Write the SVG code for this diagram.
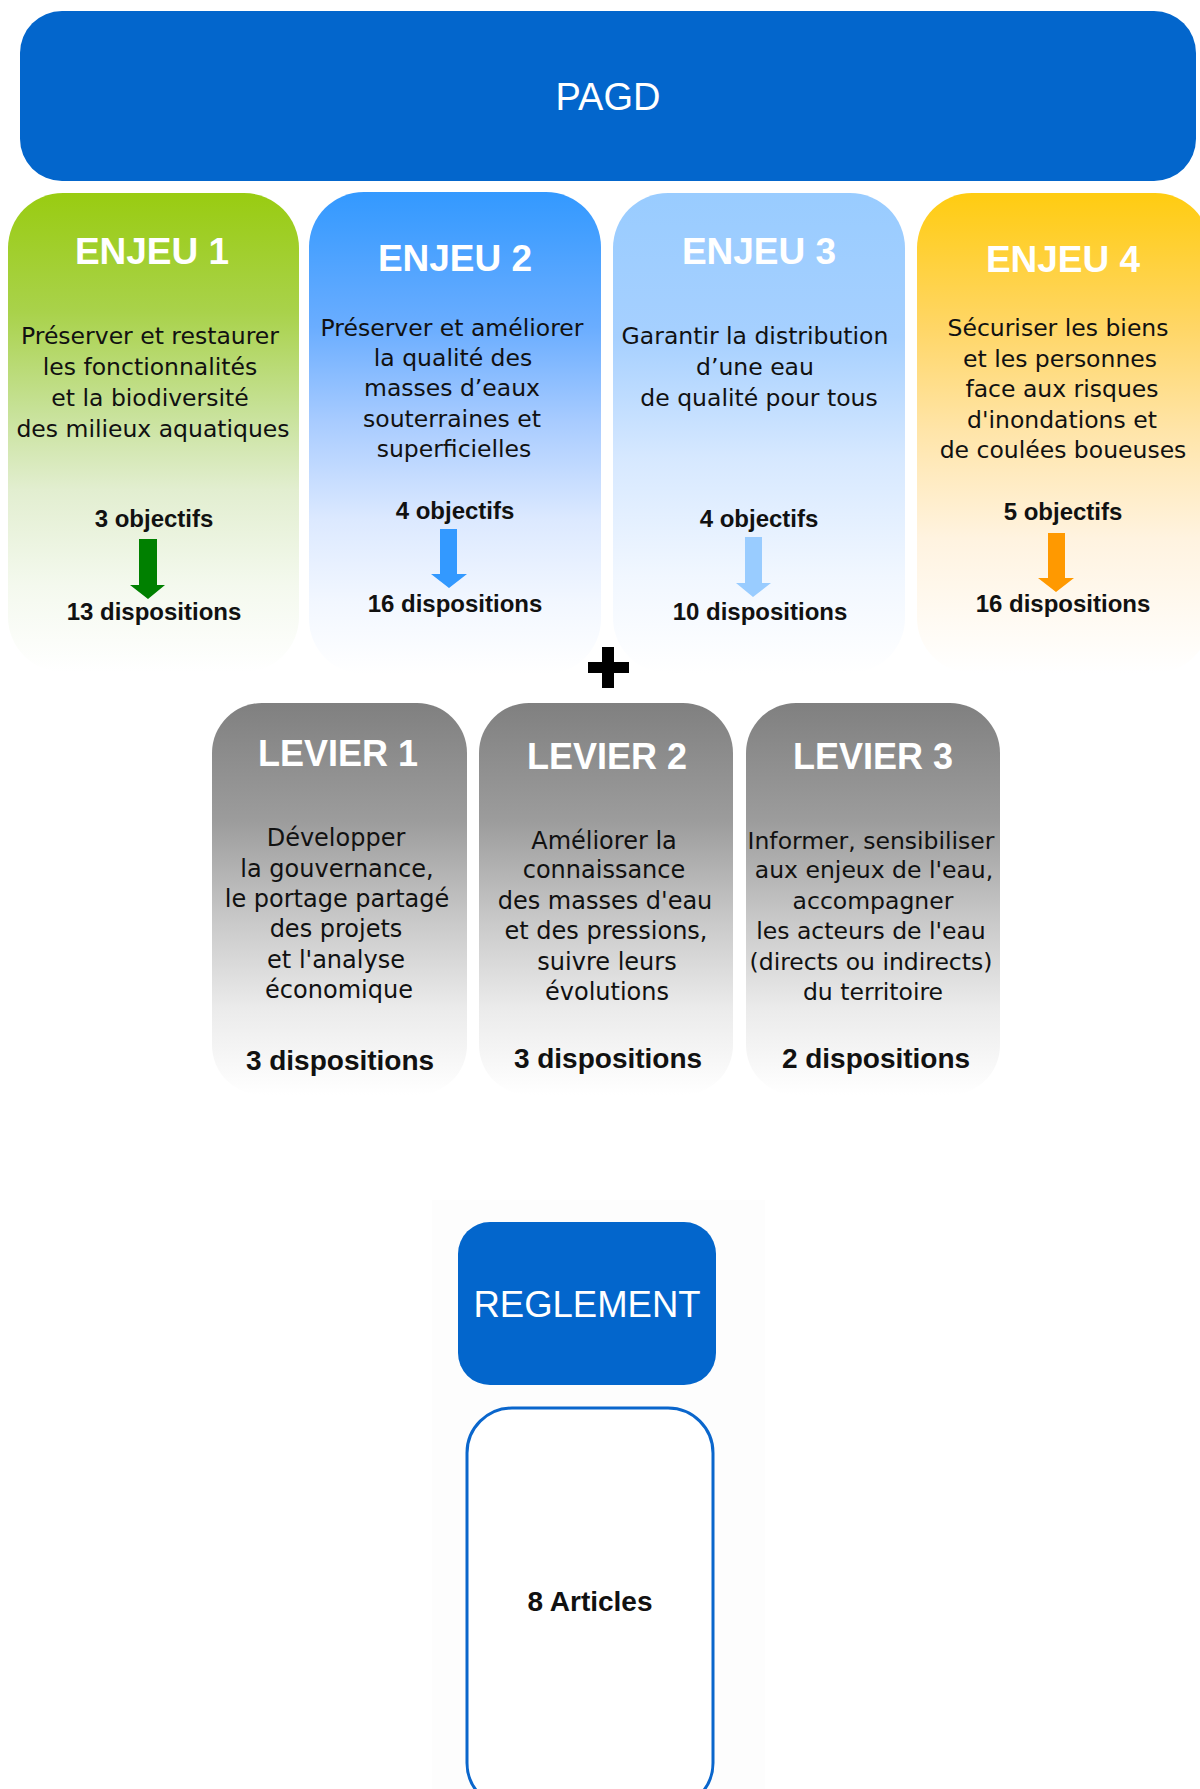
<svg xmlns="http://www.w3.org/2000/svg" width="1200" height="1789" viewBox="0 0 1200 1789">
<defs>
<linearGradient id="g1" x1="0" y1="0" x2="0" y2="1">
<stop offset="0" stop-color="#99CC11"/><stop offset="0.25" stop-color="#A9D24B"/><stop offset="0.45" stop-color="#C6E196"/><stop offset="0.62" stop-color="#E2EED0"/><stop offset="0.82" stop-color="#F4F9EE"/><stop offset="1" stop-color="#FFFFFF"/>
</linearGradient>
<linearGradient id="g2" x1="0" y1="0" x2="0" y2="1">
<stop offset="0" stop-color="#3399FF"/><stop offset="0.28" stop-color="#6AADFF"/><stop offset="0.48" stop-color="#A9CCFF"/><stop offset="0.68" stop-color="#DCE9FF"/><stop offset="0.85" stop-color="#F2F7FF"/><stop offset="1" stop-color="#FFFFFF"/>
</linearGradient>
<linearGradient id="g3" x1="0" y1="0" x2="0" y2="1">
<stop offset="0" stop-color="#99CCFF"/><stop offset="0.3" stop-color="#A6D0FF"/><stop offset="0.55" stop-color="#D6E8FF"/><stop offset="0.8" stop-color="#F1F7FF"/><stop offset="1" stop-color="#FFFFFF"/>
</linearGradient>
<linearGradient id="g4" x1="0" y1="0" x2="0" y2="1">
<stop offset="0" stop-color="#FFCC11"/><stop offset="0.28" stop-color="#FFD666"/><stop offset="0.5" stop-color="#FFE5AA"/><stop offset="0.72" stop-color="#FFF3E0"/><stop offset="1" stop-color="#FFFFFF"/>
</linearGradient>
<linearGradient id="gl" x1="0" y1="0" x2="0" y2="1">
<stop offset="0" stop-color="#808080"/><stop offset="0.3" stop-color="#9C9C9C"/><stop offset="0.55" stop-color="#C8C8C8"/><stop offset="0.78" stop-color="#EBEBEB"/><stop offset="1" stop-color="#FFFFFF"/>
</linearGradient>
<style>
.title{font-family:"Liberation Sans",Arial,sans-serif;font-weight:bold;fill:#FFFFFF;text-anchor:middle;font-size:37px}
.lev{font-family:"Liberation Sans",Arial,sans-serif;font-weight:bold;fill:#FFFFFF;text-anchor:middle;font-size:36px}
.body{font-family:"DejaVu Sans",sans-serif;fill:#111111;text-anchor:middle;font-size:23.5px}
.lbody{font-family:"DejaVu Sans",sans-serif;fill:#111111;text-anchor:middle;font-size:24px}
.cnt{font-family:"Liberation Sans",Arial,sans-serif;font-weight:bold;fill:#111111;text-anchor:middle;font-size:24px}
.cnt2{font-family:"Liberation Sans",Arial,sans-serif;font-weight:bold;fill:#111111;text-anchor:middle;font-size:28px}
.head{font-family:"Liberation Sans",Arial,sans-serif;fill:#FFFFFF;text-anchor:middle}
</style>
</defs>
<rect width="1200" height="1789" fill="#FFFFFF"/>
<rect x="432" y="1200" width="333" height="589" fill="#FDFDFD"/>

<g id="pagd">
<rect x="20" y="11" width="1176" height="170" rx="42" fill="#0366CC"/>
<text class="head" x="608" y="110" font-size="38">PAGD</text>
</g>

<g id="enjeu1">
<rect x="8" y="193" width="291" height="479" rx="55" fill="url(#g1)"/>
<text class="title" x="152" y="264">ENJEU 1</text>
<text class="body" x="150" y="344">Préserver et restaurer</text>
<text class="body" x="150" y="375">les fonctionnalités</text>
<text class="body" x="150" y="406">et la biodiversité</text>
<text class="body" x="153" y="437">des milieux aquatiques</text>
<text class="cnt" x="154" y="527">3 objectifs</text>
<polygon points="139,539 157,539 157,585 165,585 148,599 130,585 139,585" fill="#008000"/>
<text class="cnt" x="154" y="620">13 dispositions</text>
</g>

<g id="enjeu2">
<rect x="309" y="192" width="292" height="482" rx="55" fill="url(#g2)"/>
<text class="title" x="455" y="271">ENJEU 2</text>
<text class="body" x="452" y="336">Préserver et améliorer</text>
<text class="body" x="453" y="366">la qualité des</text>
<text class="body" x="452" y="396">masses d’eaux</text>
<text class="body" x="452" y="427">souterraines et</text>
<text class="body" x="454" y="457">superficielles</text>
<text class="cnt" x="455" y="519">4 objectifs</text>
<polygon points="440,529 457,529 457,574 467,574 449,588 431,574 440,574" fill="#3399FF"/>
<text class="cnt" x="455" y="612">16 dispositions</text>
</g>

<g id="enjeu3">
<rect x="613" y="193" width="292" height="480" rx="55" fill="url(#g3)"/>
<text class="title" x="759" y="264">ENJEU 3</text>
<text class="body" x="755" y="344">Garantir la distribution</text>
<text class="body" x="755" y="375">d’une eau</text>
<text class="body" x="759" y="406">de qualité pour tous</text>
<text class="cnt" x="759" y="527">4 objectifs</text>
<polygon points="745,537 762,537 762,583 771,583 753,597 736,583 745,583" fill="#99CCFF"/>
<text class="cnt" x="760" y="620">10 dispositions</text>
</g>

<g id="enjeu4">
<rect x="917" y="193" width="293" height="480" rx="55" fill="url(#g4)"/>
<text class="title" x="1063" y="272">ENJEU 4</text>
<text class="body" x="1058" y="336">Sécuriser les biens</text>
<text class="body" x="1060" y="367">et les personnes</text>
<text class="body" x="1062" y="397">face aux risques</text>
<text class="body" x="1062" y="428">d'inondations et</text>
<text class="body" x="1063" y="458">de coulées boueuses</text>
<text class="cnt" x="1063" y="520">5 objectifs</text>
<polygon points="1048,533 1065,533 1065,578 1074,578 1056,592 1038,578 1048,578" fill="#FF9900"/>
<text class="cnt" x="1063" y="612">16 dispositions</text>
</g>

<g id="plus">
<rect x="588" y="662" width="41" height="11" fill="#000000"/>
<rect x="602" y="647" width="12" height="41" fill="#000000"/>
</g>

<g id="levier1">
<rect x="212" y="703" width="255" height="392" rx="50" fill="url(#gl)"/>
<text class="lev" x="338" y="766">LEVIER 1</text>
<text class="lbody" x="336" y="846">Développer</text>
<text class="lbody" x="337" y="877">la gouvernance,</text>
<text class="lbody" x="337" y="907">le portage partagé</text>
<text class="lbody" x="336" y="937">des projets</text>
<text class="lbody" x="336" y="968">et l'analyse</text>
<text class="lbody" x="339" y="998">économique</text>
<text class="cnt2" x="340" y="1070">3 dispositions</text>
</g>

<g id="levier2">
<rect x="479" y="703" width="254" height="392" rx="50" fill="url(#gl)"/>
<text class="lev" x="607" y="769">LEVIER 2</text>
<text class="lbody" x="604" y="849">Améliorer la</text>
<text class="lbody" x="604" y="878">connaissance</text>
<text class="lbody" x="605" y="909">des masses d'eau</text>
<text class="lbody" x="606" y="939">et des pressions,</text>
<text class="lbody" x="607" y="970">suivre leurs</text>
<text class="lbody" x="607" y="1000">évolutions</text>
<text class="cnt2" x="608" y="1068">3 dispositions</text>
</g>

<g id="levier3">
<rect x="746" y="703" width="254" height="392" rx="50" fill="url(#gl)"/>
<text class="lev" x="873" y="769">LEVIER 3</text>
<text class="body" x="871" y="849">Informer, sensibiliser</text>
<text class="body" x="874" y="878">aux enjeux de l'eau,</text>
<text class="body" x="873" y="909">accompagner</text>
<text class="body" x="871" y="939">les acteurs de l'eau</text>
<text class="body" x="871" y="970">(directs ou indirects)</text>
<text class="body" x="873" y="1000">du territoire</text>
<text class="cnt2" x="876" y="1068">2 dispositions</text>
</g>

<g id="reglement">
<rect x="458" y="1222" width="258" height="163" rx="32" fill="#0366CC"/>
<text class="head" x="587" y="1317" font-size="36.5">REGLEMENT</text>
</g>

<g id="articles">
<rect x="467" y="1408" width="246" height="400" rx="45" fill="#FFFFFF" stroke="#0A66CC" stroke-width="3"/>
<text class="cnt" x="590" y="1611" style="font-size:28px">8 Articles</text>
</g>

<g id="connectors"></g>
</svg>
